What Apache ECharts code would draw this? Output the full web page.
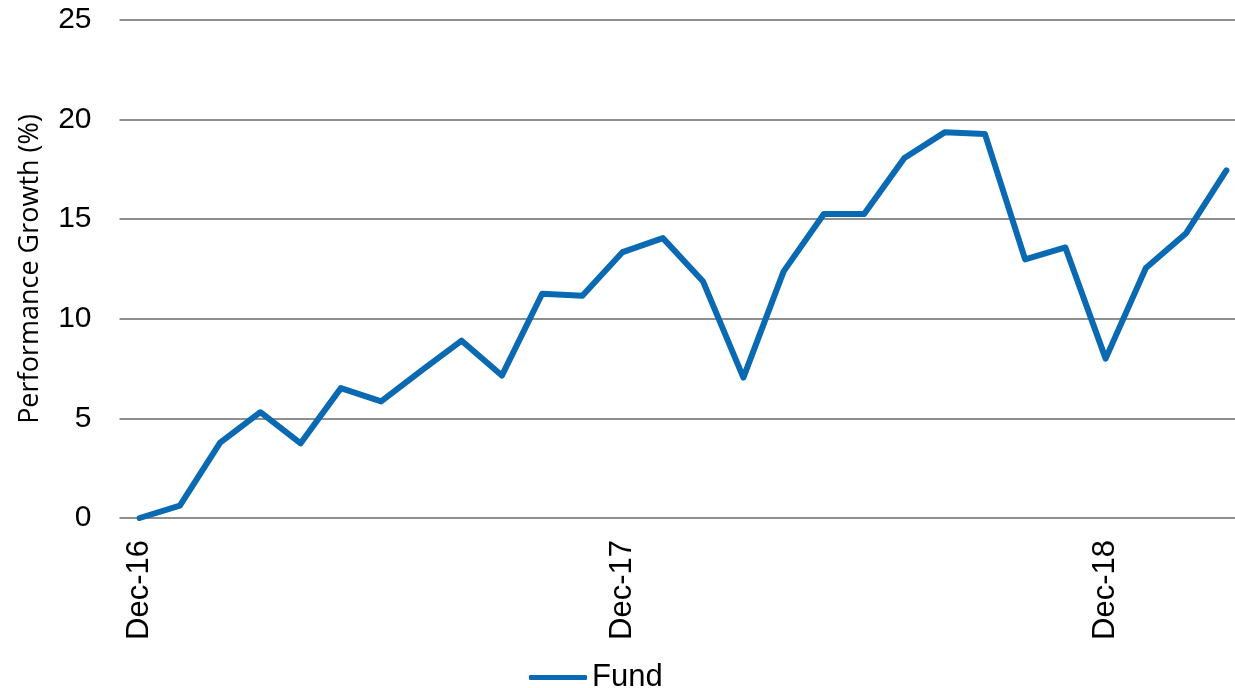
<!DOCTYPE html>
<html>
<head>
<meta charset="utf-8">
<script src="https://cdn.jsdelivr.net/npm/echarts@6/dist/echarts.min.js"></script>
<style>
html,body{margin:0;padding:0;background:#fff;}
#chart{width:1235px;height:688px;}
</style>
</head>
<body>
<div id="chart"></div>
<script>
const months = ['Dec-16','Jan-17','Feb-17','Mar-17','Apr-17','May-17','Jun-17','Jul-17','Aug-17','Sep-17','Oct-17','Nov-17','Dec-17',
  'Jan-18','Feb-18','Mar-18','Apr-18','May-18','Jun-18','Jul-18','Aug-18','Sep-18','Oct-18','Nov-18','Dec-18',
  'Jan-19','Feb-19','Mar-19'];
const fundValues = [0, 0.62, 3.78, 5.31, 3.75, 6.52, 5.85, 7.4, 8.9, 7.15, 11.26, 11.16, 13.35,
  14.05, 11.87, 7.05, 12.38, 15.26, 15.26, 18.07, 19.36, 19.28, 12.98, 13.58, 8.0,
  12.55, 14.3, 17.45];
const yTicks = [0, 5, 10, 15, 20, 25];
const seriesName = 'Fund';
const yAxisTitle = 'Performance Growth (%)';

const chart = echarts.init(document.getElementById('chart'));
const FONT = 'Liberation Sans, Arial, sans-serif';
chart.setOption({
  animation: false,
  backgroundColor: '#ffffff',
  grid: { left: 119.5, top: 20, width: 1127, height: 498, containLabel: false, outerBoundsMode: 'none' },
  legend: {
    data: [seriesName],
    left: 529,
    top: 662,
    padding: 0,
    icon: 'roundRect',
    itemWidth: 58,
    itemHeight: 5,
    itemGap: 10,
    textStyle: { fontFamily: FONT, fontSize: 31, color: '#000' }
  },
  xAxis: {
    type: 'category',
    data: months,
    boundaryGap: true,
    axisLine: { show: false },
    axisTick: { show: false },
    axisLabel: {
      interval: function (i) { return i % 12 === 0; },
      rotate: 90,
      margin: 22,
      fontFamily: FONT,
      fontSize: 31,
      color: '#000'
    },
    splitLine: { show: false }
  },
  yAxis: {
    type: 'value',
    min: yTicks[0],
    max: yTicks[yTicks.length - 1],
    interval: 5,
    name: yAxisTitle,
    nameLocation: 'middle',
    nameGap: 76,
    nameTextStyle: { fontFamily: 'Open Sans, sans-serif', fontSize: 27, color: '#000' },
    axisLine: { show: false },
    axisTick: { show: false },
    axisLabel: { margin: 28, fontFamily: FONT, fontSize: 30, color: '#000' },
    splitLine: { lineStyle: { color: '#8f8f8f', width: 2 } }
  },
  series: [{
    name: seriesName,
    type: 'line',
    data: fundValues,
    showSymbol: false,
    symbol: 'none',
    lineStyle: { color: '#0a69b3', width: 6, cap: 'round', join: 'round' },
    itemStyle: { color: '#0a69b3' }
  }]
});
</script>
</body>
</html>
